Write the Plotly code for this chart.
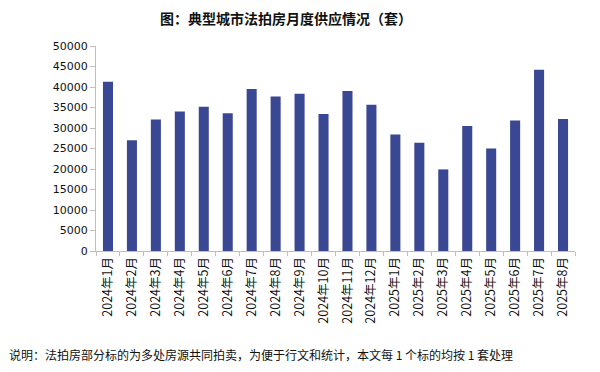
import plotly.graph_objects as go

months = ["2024年1月", "2024年2月", "2024年3月", "2024年4月", "2024年5月", "2024年6月",
          "2024年7月", "2024年8月", "2024年9月", "2024年10月", "2024年11月", "2024年12月",
          "2025年1月", "2025年2月", "2025年3月", "2025年4月", "2025年5月", "2025年6月",
          "2025年7月", "2025年8月"]
supply = [41300, 27000, 32100, 34050, 35200, 33600, 39500, 37700, 38350, 33400,
          39000, 35700, 28400, 26400, 19900, 30500, 25000, 31800, 44200, 32200]
y_ticks = [0, 5000, 10000, 15000, 20000, 25000, 30000, 35000, 40000, 45000, 50000]

fig = go.Figure(go.Bar(x=months, y=supply, marker=dict(color="#3A4893", line=dict(width=0))))

fig.update_layout(
    width=600, height=372,
    margin=dict(l=88, r=33, t=38, b=129),
    plot_bgcolor="white", paper_bgcolor="white",
    bargap=0.58,
    showlegend=False,
    annotations=[
        dict(text="<b>图：典型城市法拍房月度供应情况（套）</b>",
             xref="paper", yref="paper", x=(286 - 96) / 479, y=1 + 28 / 205, xanchor="center", yanchor="middle",
             showarrow=False, font=dict(family="Noto Sans CJK SC", size=14, color="#111111")),
        dict(text="说明：法拍房部分标的为多处房源共同拍卖，为便于行文和统计，本文每 1 个标的均按 1 套处理",
             xref="paper", yref="paper", x=-89 / 479, y=-103 / 205, xanchor="left", yanchor="middle",
             showarrow=False, font=dict(family="Noto Sans CJK SC", size=12, color="#111111")),
    ],
)
fig.update_xaxes(type="category", tickangle=-90, tickson="boundaries", ticks="outside", ticklen=4,
                 tickcolor="#BFBFBF", showline=True, linecolor="#BFBFBF", linewidth=1, automargin=False,
                 tickfont=dict(family="Noto Sans CJK SC", size=12.5, color="#111111"), showgrid=False)
fig.update_yaxes(range=[0, 50000], tickvals=y_ticks, ticktext=[str(v) for v in y_ticks],
                 ticks="outside", ticklen=5, tickcolor="#BFBFBF", automargin=False,
                 showline=True, linecolor="#BFBFBF", linewidth=1, showgrid=False, zeroline=False,
                 tickfont=dict(family="DejaVu Sans", size=11, color="#111111"))

fig.write_html("out.html")
